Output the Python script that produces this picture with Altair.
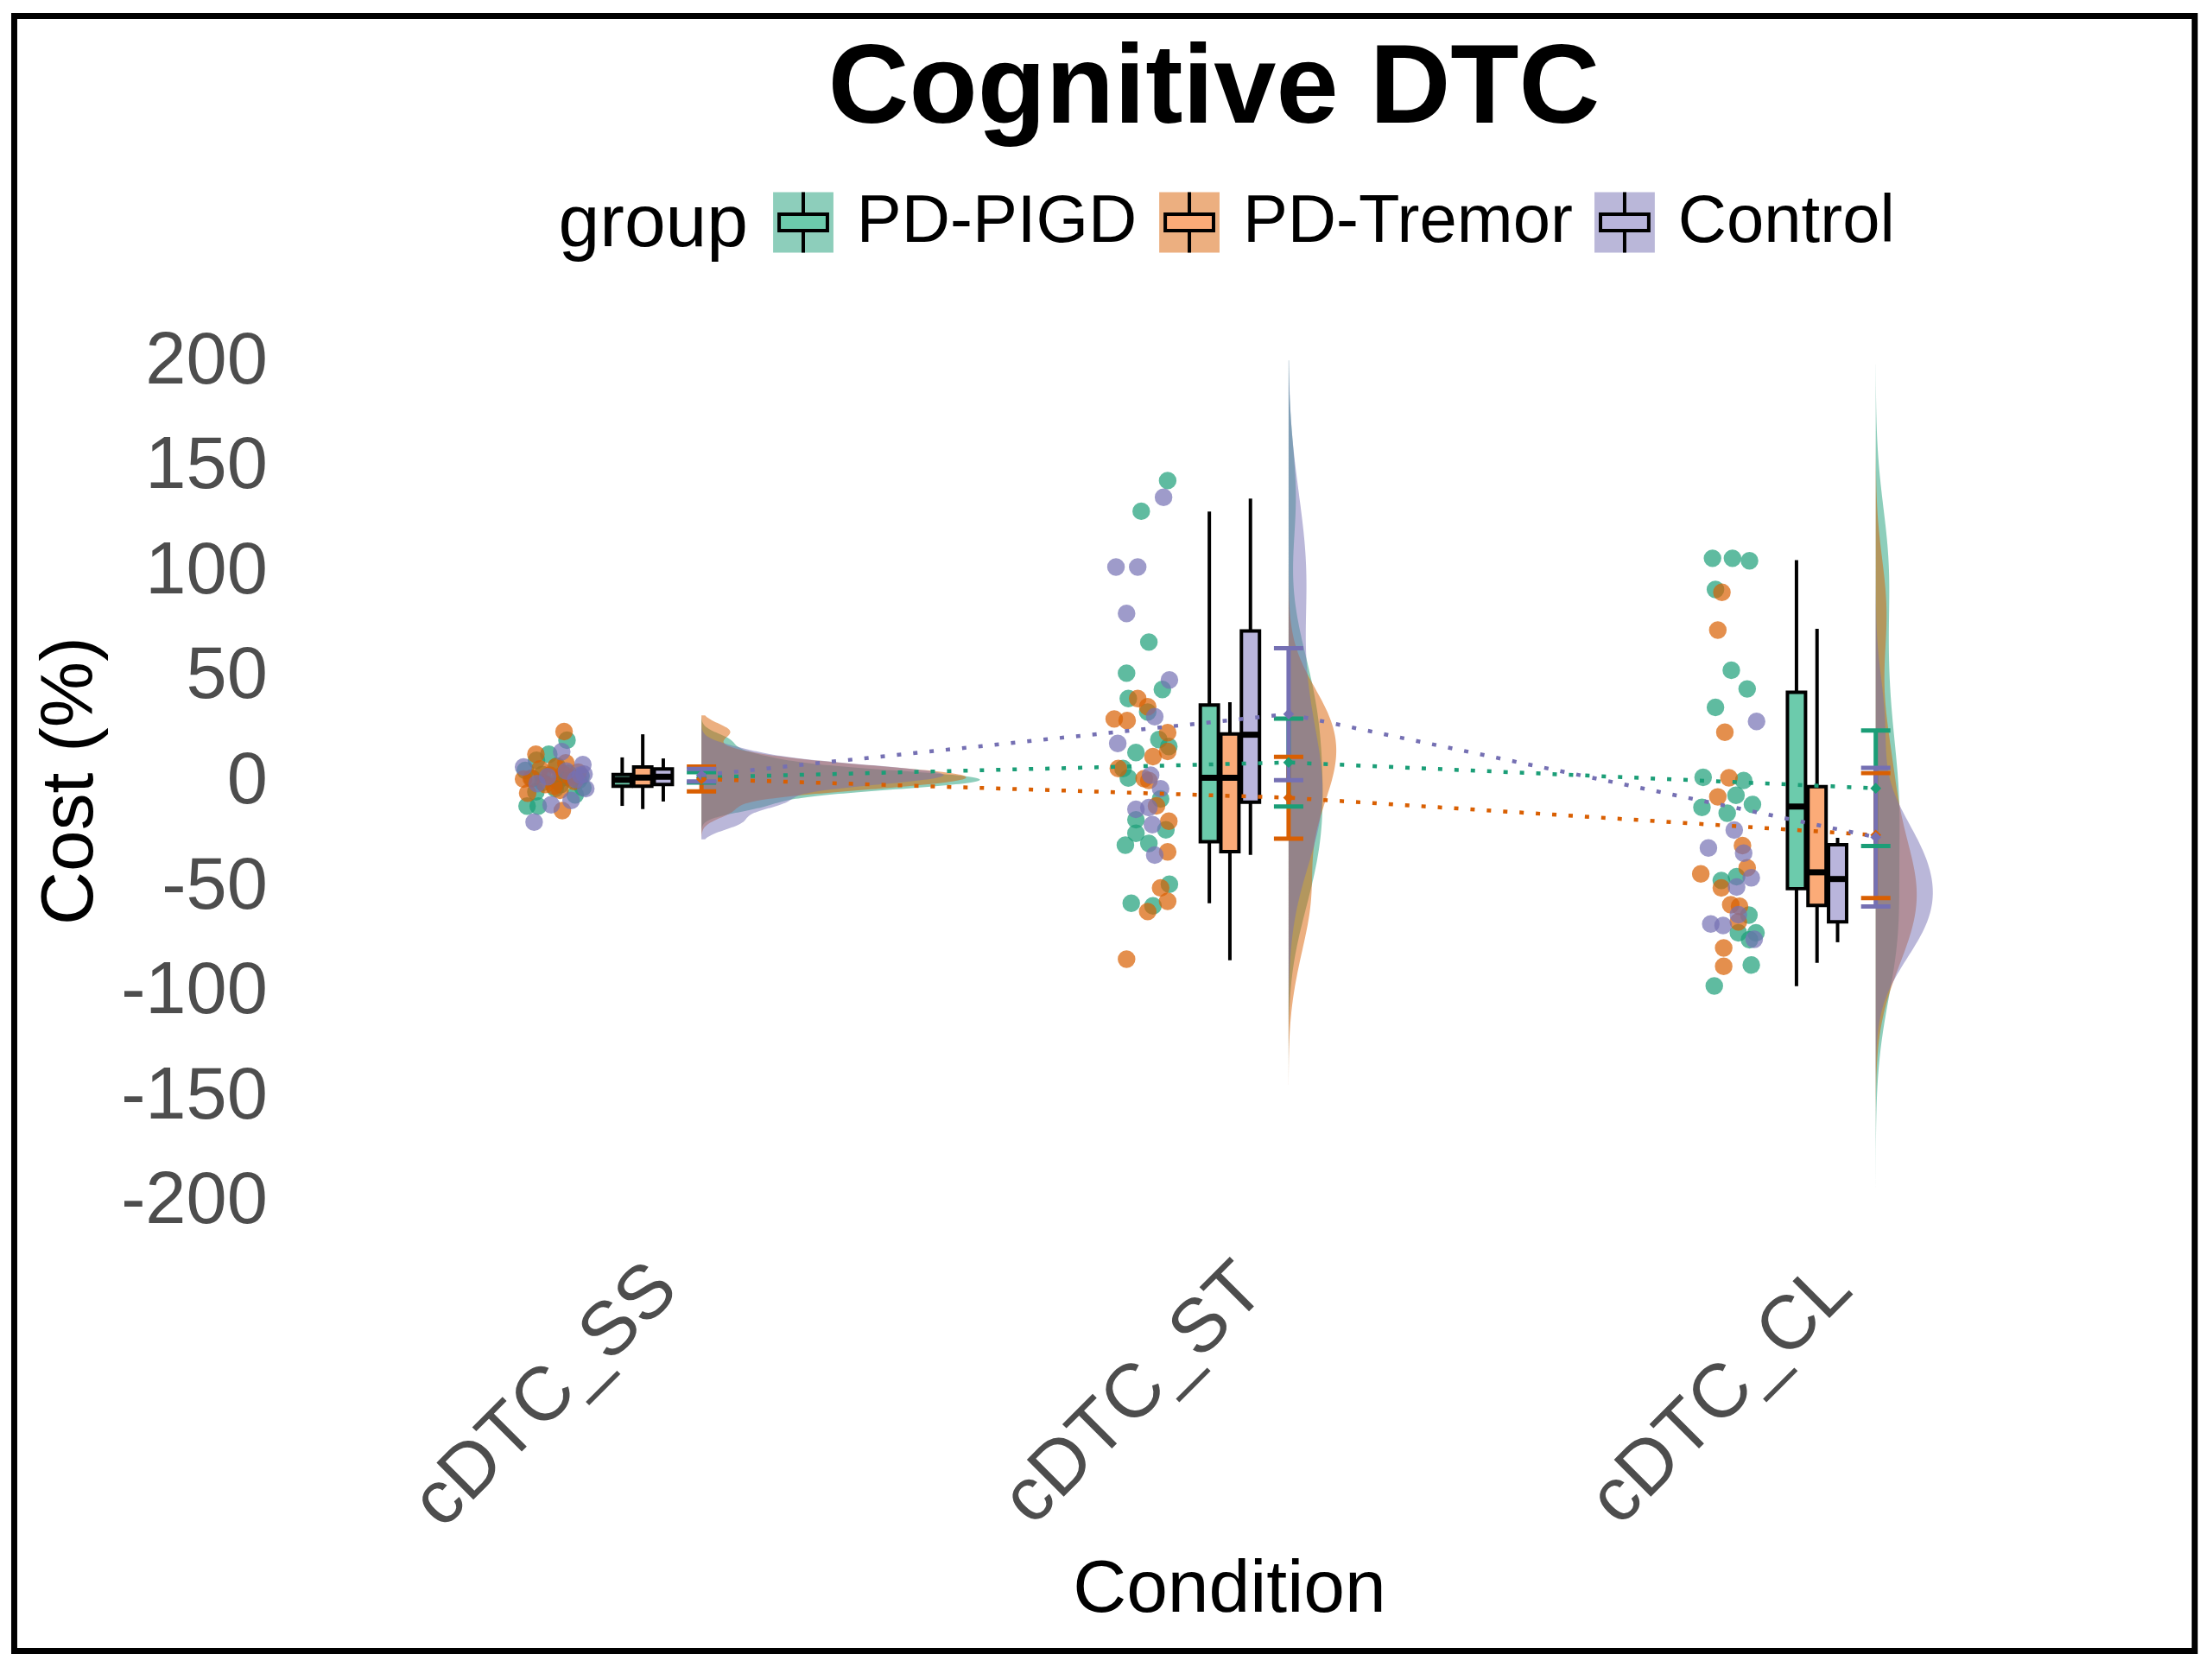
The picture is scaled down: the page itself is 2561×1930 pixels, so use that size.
import altair as alt
import pandas as pd

# ---------------- data ----------------
conditions = ["cDTC_SS", "cDTC_ST", "cDTC_CL"]
groups = ["PD-PIGD", "PD-Tremor", "Control"]
line_colors = ["#1B9E77", "#D95F02", "#7570B3"]
box_fills = ["#6CCBAC", "#FBAB78", "#B9B5DC"]

# raw cost values (%) and horizontal jitter (category units) of each dot
ss_pigd = [19.2, 4.8, 9.6, 12.5, 6.9, 3.5, 0.2, -3.4, -5.4, -3.9, -6.8, -12.2, -12.2, 2.8, 1.4, -2.0, -1.0, 0.5, 1.0, 2.0, -0.5]
ss_pigd_jit = [0.021, -0.050, -0.031, -0.010, 0.004, 0.023, 0.041, 0.048, -0.032, 0.001, 0.035, -0.047, -0.028, -0.021, 0.013, 0.010, -0.020, 0.030, -0.038, 0.045, 0.005]
ss_trem = [23.3, 12.5, 0.7, -1.9, 8.4, -4.7, -14.3, -6.0, -2.7, 1.5, 2.5, 4.0, 5.5, 6.5, -0.5, 1.0, 3.0]
ss_trem_jit = [0.016, -0.032, -0.053, -0.016, 0.019, 0.009, 0.013, -0.046, -0.001, 0.027, -0.008, 0.040, -0.025, 0.002, 0.033, -0.040, 0.015]
ss_ctrl = [-19.8, 7.6, -11.6, -3.9, 6.4, 13.7, -9.5, 0.5, 1.8, 3.0, 4.5, -1.5, 2.5]
ss_ctrl_jit = [-0.035, 0.048, -0.006, 0.053, -0.053, 0.012, 0.028, 0.036, -0.012, 0.050, 0.020, -0.030, 0.044]

st_pigd = [142.8, 128.2, 65.9, 51.1, 43.3, 39.0, 32.6, 19.5, 16.2, 13.3, 5.7, 1.2, -8.8, -23.5, -18.7, -25.1, -30.8, -30.0, -49.4, -58.4, -59.7]
st_pigd_jit = [0.044, -0.001, 0.012, -0.026, 0.035, -0.023, 0.010, 0.029, 0.046, -0.010, -0.032, -0.023, 0.032, 0.041, -0.010, -0.010, -0.028, 0.012, 0.047, -0.018, 0.019]
st_trem = [29.3, 28.5, 39.0, 35.1, 22.8, 11.4, 13.8, 5.7, 0.9, 0.0, -12.1, -19.4, -34.0, -51.1, -57.5, -62.4, -85.1]
st_trem_jit = [-0.047, -0.025, -0.007, 0.010, 0.044, 0.019, 0.044, -0.040, 0.004, 0.012, 0.025, 0.046, 0.044, 0.032, 0.044, 0.010, -0.026]
st_ctrl = [134.8, 101.6, 101.6, 79.5, 47.9, 30.4, 17.6, 2.5, -3.9, -13.7, -12.9, -35.5, -21.0]
st_ctrl_jit = [0.037, -0.044, -0.007, -0.026, 0.047, 0.022, -0.041, 0.015, 0.032, -0.010, 0.012, 0.022, 0.018]

cl_pigd = [105.8, 105.8, 104.6, 90.9, 52.5, 43.6, 34.8, 1.5, 0.0, -7.0, -11.4, -12.8, -15.6, -47.6, -45.8, -64.1, -72.5, -72.5, -75.8, -87.8, -97.8]
cl_pigd_jit = [-0.028, 0.006, 0.035, -0.023, 0.004, 0.031, -0.023, -0.044, 0.025, 0.012, 0.040, -0.046, -0.003, -0.013, 0.013, 0.034, 0.016, 0.046, 0.035, 0.038, -0.025]
cl_trem = [89.6, 71.6, 23.0, 1.3, -7.8, -31.0, -44.5, -41.6, -51.1, -59.2, -59.9, -79.7, -88.5, -67.3]
cl_trem_jit = [-0.012, -0.019, -0.007, 0.000, -0.019, 0.023, -0.048, 0.031, -0.013, 0.003, 0.018, -0.009, -0.009, 0.016]
cl_ctrl = [28.1, -23.6, -32.1, -34.6, -46.3, -50.7, -68.3, -69.0, -75.6, -63.9]
cl_ctrl_jit = [0.047, 0.009, -0.035, 0.025, 0.038, 0.013, -0.031, -0.010, 0.043, 0.016]

# boxplot statistics (order: condition-major, group-minor)
box_lo = [-12.1, -13.6, -10.0, -58.4, -85.6, -35.4, -97.9, -86.8, -77.0]
box_q1 = [-2.7, -2.7, -1.9, -29.1, -33.9, -10.3, -51.5, -59.5, -67.3]
box_med = [0.3, 1.4, 1.8, 1.3, 1.3, 21.8, -12.4, -43.7, -46.9]
box_q3 = [2.8, 6.4, 5.5, 35.9, 22.2, 71.2, 42.0, -2.9, -30.6]
box_hi = [11.0, 22.0, 10.5, 128.0, 37.3, 134.2, 104.9, 72.2, -27.3]

# group means with interval
mean_val = [1.5, 0.7, 2.5, 8.6, -8.2, 31.6, -3.7, -26.0, -27.0]
mean_lo = [-1.0, -5.2, -0.5, -12.4, -27.7, 0.2, -31.2, -56.0, -60.0]
mean_hi = [4.0, 6.6, 5.5, 29.5, 11.3, 63.0, 23.8, 3.5, 6.0]

# half-violin density settings: support per condition, bandwidth per condition x group
violin_extent = [[-28, 31], [-145, 200], [-194, 198]]
violin_bw = [[3.4, 3.8, 3.8], [23, 19, 27], [29, 23, 21]]

# ---------------- tables ----------------
raw = {
    (1, 0): (ss_pigd, ss_pigd_jit), (1, 1): (ss_trem, ss_trem_jit), (1, 2): (ss_ctrl, ss_ctrl_jit),
    (2, 0): (st_pigd, st_pigd_jit), (2, 1): (st_trem, st_trem_jit), (2, 2): (st_ctrl, st_ctrl_jit),
    (3, 0): (cl_pigd, cl_pigd_jit), (3, 1): (cl_trem, cl_trem_jit), (3, 2): (cl_ctrl, cl_ctrl_jit),
}
rows = []
for (c, g), (vals, jits) in raw.items():
    for v, j in zip(vals, jits):
        rows.append({"cond": c, "group": groups[g], "gi": g, "value": v, "jit": j})
pts = pd.DataFrame(rows)

stats = pd.DataFrame({
    "cond": [1, 1, 1, 2, 2, 2, 3, 3, 3],
    "group": groups * 3,
    "gi": [0, 1, 2] * 3,
    "lo": box_lo, "q1": box_q1, "med": box_med, "q3": box_q3, "hi": box_hi,
    "mean": mean_val, "mlo": mean_lo, "mhi": mean_hi,
})

# ---------------- layout ----------------
# The view is the whole framed figure; the panel sits inside it.
W, H = 2530, 1897
X_DOMAIN = [-0.070459, 3.643303]     # panel spans 0.4 .. 3.6
Y_DOMAIN = [-414.44, 363.97]          # ticks -200 .. 200 inside
Y_AXIS_OFFSET = -320.5
X_AXIS_OFFSET = -486
DOT_OFF = -0.15
BOX_STEP = 0.035
BOX_HALF = 0.0154
EB_OFF = 0.1
CAP_HALF = 0.025
DENS_K = 7.8
FONT = "Liberation Sans"
GRAY = "#4D4D4D"
LEG_X, LEG_Y = 631.5, 200.5

xscale = alt.Scale(domain=X_DOMAIN, nice=False, zero=False)
yscale = alt.Scale(domain=Y_DOMAIN, nice=False, zero=False)

legend_common = dict(
    title="group", orient="none", legendX=LEG_X, legendY=LEG_Y, direction="horizontal",
    titleOrient="left", titleFont=FONT, titleFontSize=86, titleFontWeight="normal",
    titleColor="black", titlePadding=25, titleBaseline="middle", titleLimit=2000,
    labelFont=FONT, labelFontSize=78, labelColor="black", labelOffset=23, labelLimit=2000,
    columnPadding=21, padding=0, symbolSize=4900,
)


def dark(legend=None):
    return alt.Color("group:N", scale=alt.Scale(domain=groups, range=line_colors), legend=legend)


label_expr = "[" + ",".join(f"'{c}'" for c in conditions) + "][datum.value - 1]"

x_axis = alt.Axis(values=[1, 2, 3], labelExpr=label_expr, labelAngle=-45, labelAlign="right",
                  labelBaseline="top", labelFontSize=88, labelFont=FONT, labelColor=GRAY,
                  labelPadding=20, labelOffset=-6, labelLimit=2000, ticks=False, domain=False,
                  grid=False, offset=X_AXIS_OFFSET,
                  title="Condition", titleFont=FONT, titleFontSize=86, titleFontWeight="normal",
                  titleColor="black", titleX=1409.5, titleY=439.5, titleBaseline="alphabetic",
                  titleAlign="center")
title_axis = alt.Axis(orient="top", labels=False, ticks=False, domain=False, grid=False,
                      title="Cognitive DTC", titleFont=FONT, titleFontSize=130,
                      titleFontWeight="bold", titleColor="black", titleX=1391.5, titleY=123.5,
                      titleBaseline="alphabetic", titleAlign="center")
y_axis = alt.Axis(values=list(range(-200, 201, 50)), labelExpr="'' + datum.value",
                  labelFontSize=85, labelFont=FONT, labelColor=GRAY, labelPadding=27,
                  labelLimit=2000, ticks=False, domain=False, grid=False, offset=Y_AXIS_OFFSET,
                  title="Cost (%)", titleFont=FONT, titleFontSize=86, titleFontWeight="normal",
                  titleColor="black", titleX=-230, titleY=887, titleAngle=270,
                  titleBaseline="alphabetic", titleAlign="center")


def X(f, axis=None):
    return alt.X(f, type="quantitative", scale=xscale, axis=axis)


def Y(f):
    return alt.Y(f, type="quantitative", scale=yscale, axis=y_axis)


# half violins: one density per condition and group, computed from the raw values
violins = []
for ci, ext in enumerate(violin_extent, start=1):
    for gi, g in enumerate(groups):
        leg = None
        if ci == 1 and gi == 0:
            # light key squares underneath the box glyphs of the legend
            leg = alt.Legend(symbolType="square", symbolOpacity=0.5, symbolStrokeWidth=0,
                             labelOpacity=0, titleOpacity=0, **legend_common)
        v = (alt.Chart(pts)
             .transform_filter((alt.datum.cond == ci) & (alt.datum.gi == gi))
             .transform_density("value", groupby=["group", "gi", "cond"], extent=ext, steps=300,
                                bandwidth=violin_bw[ci - 1][gi], as_=["v", "dens"])
             .transform_calculate(xb=f"datum.cond + {EB_OFF}",
                                  xv=f"datum.cond + {EB_OFF} + datum.dens * {DENS_K}")
             .mark_area(orient="horizontal", opacity=0.5)
             .encode(y=Y("v"), x=X("xv"), x2="xb:Q", color=dark(leg)))
        violins.append(v)

dots = (alt.Chart(pts)
        .transform_calculate(xp=f"datum.cond + {DOT_OFF} + datum.jit")
        .mark_circle(size=420, opacity=0.7)
        .encode(x=X("xp", x_axis), y=Y("value"), color=dark(), order="gi:Q"))

box_base = alt.Chart(stats).transform_calculate(
    xc=f"datum.cond + (datum.gi - 1) * {BOX_STEP}",
    xl=f"datum.cond + (datum.gi - 1) * {BOX_STEP} - {BOX_HALF}",
    xr=f"datum.cond + (datum.gi - 1) * {BOX_STEP} + {BOX_HALF}",
)
whisk = box_base.mark_rule(color="black", strokeWidth=4).encode(x=X("xc"), y=Y("lo"), y2="hi:Q")
boxes = box_base.mark_rect(stroke="black", strokeWidth=4, opacity=1).encode(
    x=X("xl"), x2="xr:Q", y=Y("q1"), y2="q3:Q",
    color=alt.Color("group:N", scale=alt.Scale(domain=groups, range=box_fills),
                    legend=alt.Legend(
                        symbolType="M-0.8,-0.27H0.8V0.27H-0.8Z M0,-0.27V-1 M0,0.27V1",
                        symbolStrokeColor="black", symbolStrokeWidth=4, symbolOpacity=1,
                        **legend_common)),
)
medians = box_base.mark_rule(color="black", strokeWidth=7).encode(
    x=X("xl"), x2="xr:Q", y=Y("med"))

eb_base = alt.Chart(stats).transform_calculate(
    xe=f"datum.cond + {EB_OFF}",
    xel=f"datum.cond + {EB_OFF} - {CAP_HALF}",
    xer=f"datum.cond + {EB_OFF} + {CAP_HALF}",
)
eb_line = eb_base.mark_rule(strokeWidth=5).encode(x=X("xe"), y=Y("mlo"), y2="mhi:Q", color=dark())
cap_lo = eb_base.mark_rule(strokeWidth=5).encode(x=X("xel"), x2="xer:Q", y=Y("mlo"), color=dark())
cap_hi = eb_base.mark_rule(strokeWidth=5).encode(x=X("xel"), x2="xer:Q", y=Y("mhi"), color=dark())
mean_pt = eb_base.mark_point(shape="diamond", filled=True, size=160, opacity=1).encode(
    x=X("xe"), y=Y("mean"), color=dark())
mean_lines = eb_base.mark_line(strokeDash=[5, 14], strokeWidth=4.5).encode(
    x=X("xe"), y=Y("mean"), color=dark(), detail="group:N", order="cond:Q")

# carrier of the chart title (placed through a top axis title)
title_layer = eb_base.mark_point(opacity=0).encode(x=X("xe", title_axis), y=Y("mean"))

chart = alt.layer(
    *violins, dots, whisk, boxes, medians, eb_line, cap_lo, cap_hi, mean_pt, mean_lines,
    title_layer
).properties(
    width=W, height=H,
    autosize=alt.AutoSizeParams(type="none"),
    padding={"left": 8.5, "top": 8.5, "right": 12, "bottom": 12},
    background="white",
).resolve_scale(color="independent").resolve_axis(x="independent").configure_view(
    stroke="black", strokeWidth=7
)

chart.save("out.html", embed_options={"renderer": "svg", "actions": False})
